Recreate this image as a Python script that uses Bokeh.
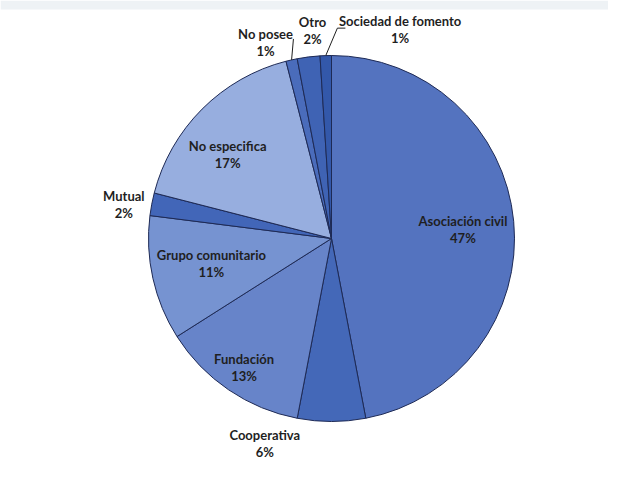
import math
from bokeh.plotting import figure
from bokeh.models import ColumnDataSource
from bokeh.core.properties import value
from bokeh.embed import file_html
from bokeh.resources import INLINE

# ---- data ----
categories = ["Asociación civil", "Cooperativa", "Fundación", "Grupo comunitario",
              "Mutual", "No especifica", "No posee", "Otro", "Sociedad de fomento"]
shares = [47, 6, 13, 11, 2, 17, 1, 2, 1]

# ---- style ----
colors = ["#5473BF", "#4468B8", "#6784C9", "#7693D1", "#4266B8",
          "#97AEDF", "#4A6CBB", "#3F63B4", "#3358AA"]
label_r = [0.72, 1.18, 0.85, 0.67, 1.15, 0.73, 1.13, 1.14, 1.20]
label_shift = [1.4, 18, 0, 1, -1.5, -6, -6, 2, 20]
leader_end = {6: (1.11, 349.2), 8: (1.15, 1.6)}

W, H = 608, 474
cx, cy = 331, H - 238
R = 183

total = sum(shares)
starts, ends, mids = [], [], []
acc = 0.0
for s in shares:
    a0 = acc / total * 360
    acc += s
    a1 = acc / total * 360
    starts.append(math.radians(90 - a0))
    ends.append(math.radians(90 - a1))
    mids.append((a0 + a1) / 2)

src = ColumnDataSource(dict(start=starts, end=ends, color=colors))

p = figure(width=W, height=H, x_range=(0, W), y_range=(0, H),
           output_backend="svg", toolbar_location=None, min_border=0)
p.axis.visible = False
p.grid.visible = False
p.outline_line_color = None
p.background_fill_color = "white"
p.border_fill_color = "white"

# light header band of the page
p.quad(left=0, right=W, bottom=H - 9, top=H, fill_color="#EEF2F5", line_color=None)

p.wedge(x=cx, y=cy, radius=R, start_angle="start", end_angle="end",
        direction="clock", fill_color="color", line_color="#1E2A55",
        line_width=1, source=src)

lx, ly, texts = [], [], []
for i, (c, s) in enumerate(zip(categories, shares)):
    ang = math.radians(mids[i] + label_shift[i])
    r = label_r[i] * R
    lx.append(cx + r * math.sin(ang))
    ly.append(cy + r * math.cos(ang))
    texts.append(f"{c}\n{s}%")

p.text(x=lx, y=ly, text=texts, text_align="center", text_baseline="middle",
       text_font=value("Lato"), text_font_style="bold", text_font_size="13px",
       text_color="#1F1F1F", text_line_height=1.05)

for i, (rf, a) in leader_end.items():
    m = math.radians(mids[i])
    x0, y0 = cx + R * math.sin(m), cy + R * math.cos(m)
    ea = math.radians(a)
    x1, y1 = cx + rf * R * math.sin(ea), cy + rf * R * math.cos(ea)
    xs, ys = [x0, x1], [y0, y1]
    if i == 8:
        xs.append(x1 + 8)
        ys.append(y1)
    p.line(xs, ys, line_color="#1F1F1F", line_width=1)

open("out.html", "w").write(file_html(p, INLINE))
